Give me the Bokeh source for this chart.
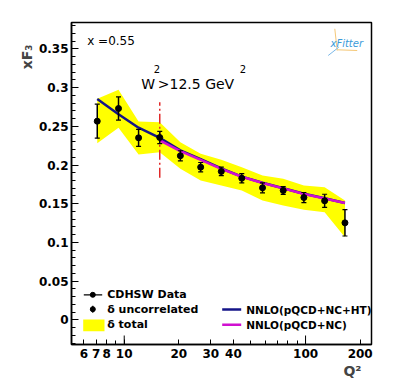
from bokeh.plotting import figure
from bokeh.models import (Range1d, LinearScale, FixedTicker, Label, Whisker,
                          TeeHead, ColumnDataSource, Title)
from bokeh.embed import file_html
from bokeh.resources import INLINE

# ---------------- data ----------------
q2 = [7.1, 9.3, 12.0, 15.7, 20.4, 26.4, 34.3, 44.5, 57.9, 75.3, 97.9, 127.4, 164.9]
xf3 = [0.2566, 0.2730, 0.2351, 0.2355, 0.2119, 0.1972, 0.1917, 0.1829,
       0.1705, 0.1671, 0.1580, 0.1537, 0.1253]
err_unc = [0.022, 0.015, 0.011, 0.008, 0.0065, 0.006, 0.0055, 0.006,
           0.0065, 0.005, 0.0065, 0.0085, 0.017]
band_lo = [0.2282, 0.2481, 0.2136, 0.2165, 0.1951, 0.1800, 0.1735, 0.1671,
           0.1541, 0.1477, 0.1421, 0.1390, 0.1067]
band_hi = [0.2855, 0.2972, 0.2562, 0.2553, 0.2295, 0.2145, 0.2067, 0.1972,
           0.1864, 0.1822, 0.1735, 0.1713, 0.1541]
nnlo_ht = [0.2852, 0.2655, 0.2482, 0.2350, 0.2190, 0.2075, 0.1955, 0.1850,
           0.1770, 0.1700, 0.1628, 0.1570, 0.1510]
q2_nc = q2[3:]
nnlo_nc = [0.2317, 0.2180, 0.2065, 0.1950, 0.1848, 0.1768, 0.1698, 0.1625,
           0.1568, 0.1508]

cut_q2 = 15.7
cut_y_lo, cut_y_hi = 0.1835, 0.281

y_ticks = [0, 0.05, 0.1, 0.15, 0.2, 0.25, 0.3, 0.35]
y_tick_labels = ["0", "0.05", "0.1", "0.15", "0.2", "0.25", "0.3", "0.35"]
y_minor = [round(-0.03 + 0.01 * i, 2) for i in range(42) if i % 5 != 3]
x_ticks = [6, 7, 8, 10, 20, 30, 40, 100, 200]
x_tick_labels = ["6", "7", "8", "10", "20", "30", "40", "100", "200"]
x_minor = [9, 50, 60, 70, 80, 90]
x_decades = [10, 100]

FONT = "DejaVu Sans"

p = figure(width=405, height=384, x_axis_type="log",
           x_range=Range1d(5.12, 231), y_range=Range1d(-0.0319, 0.3841),
           output_backend="svg", toolbar_location=None,
           min_border_left=71, min_border_right=34,
           min_border_top=22, min_border_bottom=40)
p.extra_x_ranges = {"px": Range1d(0, 300)}
p.extra_y_ranges = {"py": Range1d(0, 322)}
p.extra_x_scales = {"px": LinearScale()}
p.extra_y_scales = {"py": LinearScale()}

p.grid.visible = False
p.outline_line_color = "black"
p.outline_line_width = 1.5
p.background_fill_color = "white"
p.border_fill_color = "white"

# axes
for ax in (p.xaxis[0], p.yaxis[0]):
    ax.axis_line_width = 1.5
    ax.major_tick_out = 0
    ax.minor_tick_out = 0
    ax.major_label_text_font = FONT
    ax.major_label_text_font_style = "bold"
    ax.major_label_text_font_size = "12px"
    ax.major_label_text_color = "black"
p.yaxis.ticker = FixedTicker(ticks=y_ticks, minor_ticks=y_minor)
p.yaxis.major_label_overrides = dict(zip(y_ticks, y_tick_labels))
p.yaxis.major_tick_in = 7
p.yaxis.minor_tick_in = 4
p.yaxis.major_label_standoff = 3
p.xaxis.ticker = FixedTicker(ticks=x_ticks, minor_ticks=x_minor)
p.xaxis.major_label_overrides = dict(zip(x_ticks, x_tick_labels))
p.xaxis.major_tick_in = 5
p.xaxis.minor_tick_in = 4
p.xaxis.major_label_standoff = 4

# axis titles
p.add_layout(Title(text="Q\u00b2", align="right", offset=10, standoff=0,
                   text_font=FONT, text_font_style="bold",
                   text_font_size="14px"), "below")
p.add_layout(Title(text="xF\u2083", align="right", offset=22, standoff=2,
                   text_font=FONT, text_font_style="bold",
                   text_font_size="14px"), "left")

# longer decade ticks
p.segment(x0=x_decades, x1=x_decades, y0=[0, 0], y1=[9, 9],
          y_range_name="py", line_color="black", line_width=1)

# total uncertainty band
p.varea(x=q2, y1=band_lo, y2=band_hi, fill_color="#ffff00")

# W2 cut line
p.segment(x0=[cut_q2], x1=[cut_q2], y0=[cut_y_lo], y1=[cut_y_hi],
          line_color="#e02828", line_width=1.5, line_dash="10 3 2 3")

# theory curves
p.line(q2, nnlo_ht, line_color="#141488", line_width=2.5)
p.line(q2_nc, nnlo_nc, line_color="#d010d0", line_width=2.5)

# data with uncorrelated errors
src = ColumnDataSource(dict(x=q2, y=xf3,
                            lo=[v - e for v, e in zip(xf3, err_unc)],
                            hi=[v + e for v, e in zip(xf3, err_unc)]))
w = Whisker(base="x", lower="lo", upper="hi", source=src, level="annotation",
            line_color="black", line_width=1.5,
            upper_head=TeeHead(size=5, line_color="black", line_width=1.2),
            lower_head=TeeHead(size=5, line_color="black", line_width=1.2))
p.add_layout(w)
p.scatter("x", "y", source=src, size=6, color="black", level="overlay")

# ---------------- legends (frame pixel coordinates) ----------------
p.segment(x0=[12.3], x1=[30.7], y0=[49.7], y1=[49.7], x_range_name="px",
          y_range_name="py", line_color="black", line_width=1.2)
p.scatter(x=[21.3, 21.3], y=[49.7, 35.3], x_range_name="px", y_range_name="py",
          size=5, color="black")
p.segment(x0=[21.3], x1=[21.3], y0=[31.8], y1=[38.8], x_range_name="px",
          y_range_name="py", line_color="black", line_width=1.2)
p.quad(left=[11.7], right=[33], bottom=[13.3], top=[25], x_range_name="px",
       y_range_name="py", fill_color="#ffff00", line_color=None)
p.segment(x0=[150.7, 150.7], x1=[169.7, 169.7], y0=[35, 19.7], y1=[35, 19.7],
          x_range_name="px", y_range_name="py",
          line_color=["#141488", "#d010d0"], line_width=2.5)

# xFitter logo decoration
p.segment(x0=[263.3, 256.7, 265.7], x1=[265.7, 267.3, 285.7],
          y0=[315.7, 289.0, 294.7], y1=[294.0, 297.3, 294.0],
          x_range_name="px", y_range_name="py",
          line_color=["#f5c878", "#7ab8e8", "#f5c878"], line_width=1)

def lab(text, x, y, size, bold=False, italic=False, align="left",
        baseline="alphabetic", angle=0, color="black"):
    style = "bold" if bold else "normal"
    if italic:
        style = "bold italic" if bold else "italic"
    p.add_layout(Label(x=x, y=y, x_units="screen", y_units="screen",
                       text=text, text_font=FONT, text_font_size=size,
                       text_font_style=style, text_align=align,
                       text_baseline=baseline, angle=angle,
                       text_color=color))

lab("CDHSW Data", 35.7, 49.7, "11px", bold=True, baseline="middle")
lab("\u03b4 uncorrelated", 35.7, 35.3, "11px", bold=True, baseline="middle")
lab("\u03b4 total", 35.7, 20, "11px", bold=True, baseline="middle")
lab("NNLO(pQCD+NC+HT)", 174.7, 35, "10.5px", bold=True, baseline="middle")
lab("NNLO(pQCD+NC)", 174.7, 19.7, "10.5px", bold=True, baseline="middle")

# in-plot texts
lab("x =0.55", 15.7, 303.3, "12px")
lab("W", 69.7, 260.7, "14px")
lab("2", 82.3, 275.7, "10px")
lab(">12.5 GeV", 86.3, 260.7, "14px")
lab("2", 168.3, 275.7, "10px")
lab("xFitter", 259, 300.7, "10px", italic=True, baseline="middle", color="#3a9ad9")

open("out.html", "w").write(file_html(p, INLINE))
